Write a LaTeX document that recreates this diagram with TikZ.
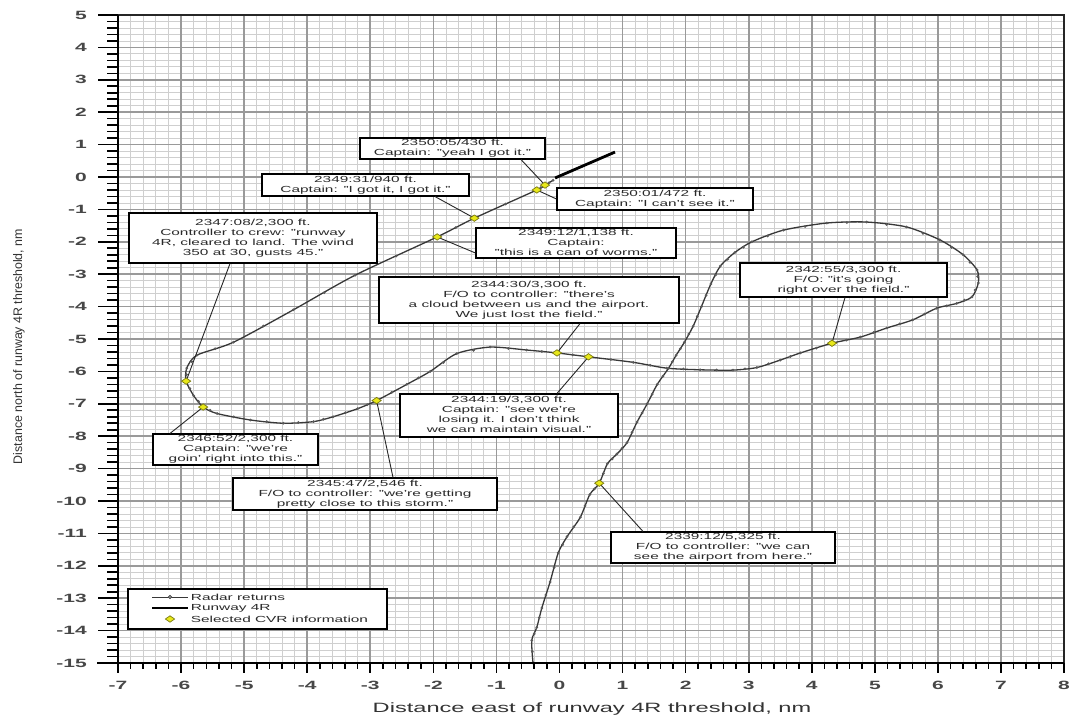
\documentclass[tikz,border=0pt]{standalone}
\usepackage{fontspec}
\setmainfont{Liberation Sans}

% horizontal stretch applied to the printed labels
\newcommand{\hx}{1.75}
\newcommand{\wide}[1]{\scalebox{\hx}[1]{#1}}
\newcommand{\cvrtext}[1]{\scalebox{\hx}[1]{\fontsize{8.8}{10}\selectfont\begin{tabular}{@{}c@{}}#1\end{tabular}}}

\definecolor{minorgrid}{HTML}{CFCFCF}
\definecolor{majorgrid}{HTML}{9A9A9A}
\definecolor{cvryellow}{HTML}{E8E81A}
\definecolor{cvredge}{HTML}{7A7A10}
\definecolor{inkgray}{HTML}{2A2A2A}

\tikzset{
  gridminor/.style={draw=minorgrid, line width=0.8pt},
  gridmajor/.style={draw=majorgrid, line width=1.6pt},
  axisline/.style={draw=black, line width=2.2pt},
  frameline/.style={draw=black!85, line width=1.3pt},
  tickmark/.style={draw=black, line width=1.6pt},
  ticklab/.style={font=\fontsize{12}{14}\selectfont\bfseries, text=black!72, inner sep=0pt},
  radar/.style={draw=black!78, line width=1.3pt},
  radardot/.style={fill=black!65},
  runwayline/.style={draw=black, line width=2.8pt},
  leader/.style={draw=black!85, line width=0.9pt},
  cbox/.style={draw=black, line width=1.1pt, fill=white, inner sep=0pt, text=inkgray},
  cvrmark/.pic={\draw[draw=cvredge, fill=cvryellow, line width=0.7pt] (-4.6pt,0) -- (0,3.2pt) -- (4.6pt,0) -- (0,-3.2pt) -- cycle;}
}

\begin{document}
\begin{tikzpicture}[x=1pt, y=-1pt]
\useasboundingbox (0,0) rectangle (1070,715);
\fill[white] (0,0) rectangle (1070,715);

% ---------- plot area in data units (nm) ----------
\begin{scope}[shift={(559.5,177)}, x=63.07pt, y=32.4pt]
  % grid
  \foreach \k in {0,...,75} \draw[gridminor] ({-7+0.2*\k},-15) -- ({-7+0.2*\k},5);
  \foreach \k in {0,...,100} \draw[gridminor] (-7,{-15+0.2*\k}) -- (8,{-15+0.2*\k});
  \foreach \k in {-6,...,7} \draw[gridmajor] (\k,-15) -- (\k,5);
  \foreach \k in {-14,...,4} \draw[gridmajor] (-7,\k) -- (8,\k);

  % radar returns
  \draw[radar] plot[smooth, tension=0.45] coordinates {
    (-0.42,-15.0) (-0.44,-14.3) (-0.36,-13.9) (-0.28,-13.3) (-0.15,-12.5)
    (-0.02,-11.6) (0.12,-11.1) (0.33,-10.5) (0.48,-9.8) (0.63,-9.45)
    (0.76,-8.85) (0.91,-8.55) (1.07,-8.2) (1.23,-7.56) (1.39,-7.0) (1.55,-6.4)
    (1.73,-5.9) (1.85,-5.5) (1.98,-5.1) (2.12,-4.6) (2.25,-4.0) (2.4,-3.3)
    (2.55,-2.75) (2.78,-2.33) (3.05,-2.0) (3.55,-1.64) (4.24,-1.42)
    (4.87,-1.39) (5.5,-1.54) (6.03,-1.94) (6.4,-2.4) (6.62,-2.87)
    (6.64,-3.27) (6.54,-3.7) (6.3,-3.9) (5.98,-4.05) (5.6,-4.41)
    (5.19,-4.66) (4.77,-4.94) (4.32,-5.13) (3.82,-5.43) (3.5,-5.65)
    (3.13,-5.88) (2.75,-5.96) (2.23,-5.95) (1.7,-5.9) (1.17,-5.72)
    (0.46,-5.55) (-0.04,-5.43) (-0.52,-5.34) (-1.1,-5.25) (-1.63,-5.45)
    (-2.05,-6.0) (-2.42,-6.4) (-2.9,-6.9) (-3.2,-7.15) (-3.59,-7.4)
    (-3.9,-7.55) (-4.38,-7.6) (-4.9,-7.5) (-5.43,-7.3) (-5.65,-7.1)
    (-5.8,-6.75) (-5.92,-6.3) (-5.91,-5.9) (-5.75,-5.5) (-5.17,-5.1)
    (-4.22,-4.1) (-3.24,-3.03) (-1.94,-1.85) (-1.35,-1.27) (-0.36,-0.4)
    (-0.23,-0.25) (-0.1,-0.1)};
  % individual returns along the track
  \foreach \x/\y [remember=\x as \px (initially -0.42), remember=\y as \py (initially -15.0)] in {
    -0.42/-15.0, -0.44/-14.3, -0.36/-13.9, -0.28/-13.3, -0.15/-12.5,
    -0.02/-11.6, 0.12/-11.1, 0.33/-10.5, 0.48/-9.8, 0.63/-9.45,
    0.76/-8.85, 0.91/-8.55, 1.07/-8.2, 1.23/-7.56, 1.39/-7.0, 1.55/-6.4,
    1.73/-5.9, 1.85/-5.5, 1.98/-5.1, 2.12/-4.6, 2.25/-4.0, 2.4/-3.3,
    2.55/-2.75, 2.78/-2.33, 3.05/-2.0, 3.55/-1.64, 4.24/-1.42,
    4.87/-1.39, 5.5/-1.54, 6.03/-1.94, 6.4/-2.4, 6.62/-2.87,
    6.64/-3.27, 6.54/-3.7, 6.3/-3.9, 5.98/-4.05, 5.6/-4.41,
    5.19/-4.66, 4.77/-4.94, 4.32/-5.13, 3.82/-5.43, 3.5/-5.65,
    3.13/-5.88, 2.75/-5.96, 2.23/-5.95, 1.7/-5.9, 1.17/-5.72,
    0.46/-5.55, -0.04/-5.43, -0.52/-5.34, -1.1/-5.25, -1.63/-5.45,
    -2.05/-6.0, -2.42/-6.4, -2.9/-6.9, -3.2/-7.15, -3.59/-7.4,
    -3.9/-7.55, -4.38/-7.6, -4.9/-7.5, -5.43/-7.3, -5.65/-7.1,
    -5.8/-6.75, -5.92/-6.3, -5.91/-5.9, -5.75/-5.5, -5.17/-5.1,
    -4.22/-4.1, -3.24/-3.03, -1.94/-1.85, -1.35/-1.27, -0.36/-0.4,
    -0.23/-0.25, -0.1/-0.1}
  {
    \fill[radardot] (\x,\y) circle (1.5pt);
    \fill[radardot] ({(\x+\px)/2},{(\y+\py)/2}) circle (1.5pt);
  }

  % runway 4R
  \draw[runwayline] (-0.07,-0.03) -- (0.88,0.77);

  % CVR positions
  \coordinate (c0505) at (-0.23,-0.25);
  \coordinate (c0501) at (-0.36,-0.40);
  \coordinate (c4931) at (-1.35,-1.27);
  \coordinate (c4912) at (-1.94,-1.85);
  \coordinate (c4708) at (-5.92,-6.30);
  \coordinate (c4652) at (-5.65,-7.10);
  \coordinate (c4547) at (-2.90,-6.90);
  \coordinate (c4430) at (-0.04,-5.43);
  \coordinate (c4419) at (0.46,-5.55);
  \coordinate (c4255) at (4.32,-5.13);
  \coordinate (c3912) at (0.63,-9.45);

  % frame, axes and ticks
  \draw[frameline] ([xshift=-20pt]-7,5) -- (8,5) -- (8,-15);
  \foreach \k in {0,...,100} \draw[tickmark] (-7,{-15+0.2*\k}) -- ++(-11pt,0);
  \foreach \k in {-15,...,5} \draw[tickmark] (-7,\k) -- ++(-20pt,0);
  \foreach \k in {0,...,75} \draw[tickmark] ({-7+0.2*\k},-15) -- ++(0,-6pt);
  \foreach \k in {-7,...,8} \draw[tickmark] (\k,-15) -- ++(0,-10pt);
  \draw[axisline] (-7,5) -- (-7,-15);
  \draw[axisline] ([xshift=-21pt]-7,-15) -- (8,-15);

  % tick labels
  \foreach \k in {-15,...,5} \node[ticklab, anchor=east] at ([xshift=-31pt]-7,\k) {\wide{\k}};
  \foreach \k in {-7,...,8} \node[ticklab] at ([yshift=-22pt]\k,-15) {\wide{\k}};
\end{scope}

% ---------- axis titles ----------
\node[text=black!80, inner sep=0pt] (xtitle) at (592,709)
  {\wide{\fontsize{13.5}{15}\selectfont Distance east of runway 4R threshold, nm}};
\node[text=black!80, inner sep=0pt, rotate=90] (ytitle) at (19,346.5)
  {\fontsize{12.4}{14}\selectfont Distance north of runway 4R threshold, nm};

% ---------- CVR callouts ----------
\node[cbox, minimum width=185pt, minimum height=21pt] (n0505) at (452.5,148.5)
  {\cvrtext{2350:05/430 ft.\\Captain: "yeah I got it."}};
\node[cbox, minimum width=207pt, minimum height=22pt] (n4931) at (365.5,185)
  {\cvrtext{2349:31/940 ft.\\Captain: "I got it, I got it."}};
\node[cbox, minimum width=196pt, minimum height=22pt] (n0501) at (655,199)
  {\cvrtext{2350:01/472 ft.\\Captain: "I can't see it."}};
\node[cbox, minimum width=200pt, minimum height=30pt] (n4912) at (576,243)
  {\cvrtext{2349:12/1,138 ft.\\Captain:\\"this is a can of worms."}};
\node[cbox, minimum width=248pt, minimum height=50pt] (n4708) at (253,238)
  {\cvrtext{2347:08/2,300 ft.\\Controller to crew: "runway\\4R, cleared to land. The wind\\350 at 30, gusts 45."}};
\node[cbox, minimum width=300pt, minimum height=46pt] (n4430) at (529,300)
  {\cvrtext{2344:30/3,300 ft.\\F/O to controller: "there's\\a cloud between us and the airport.\\We just lost the field."}};
\node[cbox, minimum width=207pt, minimum height=34pt] (n4255) at (843.5,280)
  {\cvrtext{2342:55/3,300 ft.\\F/O: "it's going\\right over the field."}};
\node[cbox, minimum width=218pt, minimum height=43pt] (n4419) at (509,415.5)
  {\cvrtext{2344:19/3,300 ft.\\Captain: "see we're\\losing it. I don't think\\we can maintain visual."}};
\node[cbox, minimum width=264pt, minimum height=32pt] (n4547) at (365,494)
  {\cvrtext{2345:47/2,546 ft.\\F/O to controller: "we're getting\\pretty close to this storm."}};
\node[cbox, minimum width=165pt, minimum height=31pt] (n4652) at (235.5,449.5)
  {\cvrtext{2346:52/2,300 ft.\\Captain: "we're\\goin' right into this."}};
\node[cbox, minimum width=224pt, minimum height=31pt] (n3912) at (723,547.5)
  {\cvrtext{2339:12/5,325 ft.\\F/O to controller: "we can\\see the airport from here."}};

% leaders from callouts to track positions
\draw[leader] ([xshift=68.5pt]n0505.south) -- (c0505);
\draw[leader] ([xshift=69.5pt]n4931.south) -- (c4931);
\draw[leader] (n0501.west) -- (c0501);
\draw[leader] ([yshift=-10pt]n4912.west) -- (c4912);
\draw[leader] ([xshift=-23pt]n4708.south) -- (c4708);
\draw[leader] ([xshift=51pt]n4430.south) -- (c4430);
\draw[leader] ([xshift=1.5pt]n4255.south) -- (c4255);
\draw[leader] ([xshift=48pt]n4419.north) -- (c4419);
\draw[leader] ([xshift=28pt]n4547.north) -- (c4547);
\draw[leader] ([xshift=-65.5pt]n4652.north) -- (c4652);
\draw[leader] ([xshift=-80pt]n3912.north) -- (c3912);

% CVR markers
\foreach \c in {c0505,c0501,c4931,c4912,c4708,c4652,c4547,c4430,c4419,c4255,c3912}
  \pic at (\c) {cvrmark};

% ---------- legend ----------
\node[cbox, minimum width=259pt, minimum height=40pt] (legend) at (257.5,609) {};
\coordinate (lr1) at (152,597); \coordinate (lr2) at (188,597);
\coordinate (lw1) at (152,608); \coordinate (lw2) at (188,608);
\draw[radar, line width=1pt] (lr1) -- (lr2);
\draw[draw=black!75, fill=black!45, line width=0.6pt] (170,597) circle (1.8pt);
\draw[runwayline, line width=2.4pt] (lw1) -- (lw2);
\pic at (170,619) {cvrmark};
\begin{scope}[every node/.style={anchor=west, inner sep=0pt, text=inkgray}]
  \node (lt1) at (190.7,597) {\wide{\fontsize{8.8}{10}\selectfont Radar returns}};
  \node (lt2) at (190.7,608) {\wide{\fontsize{8.8}{10}\selectfont Runway 4R}};
  \node (lt3) at (190.7,619) {\wide{\fontsize{8.8}{10}\selectfont Selected CVR information}};
\end{scope}
\end{tikzpicture}
\end{document}
